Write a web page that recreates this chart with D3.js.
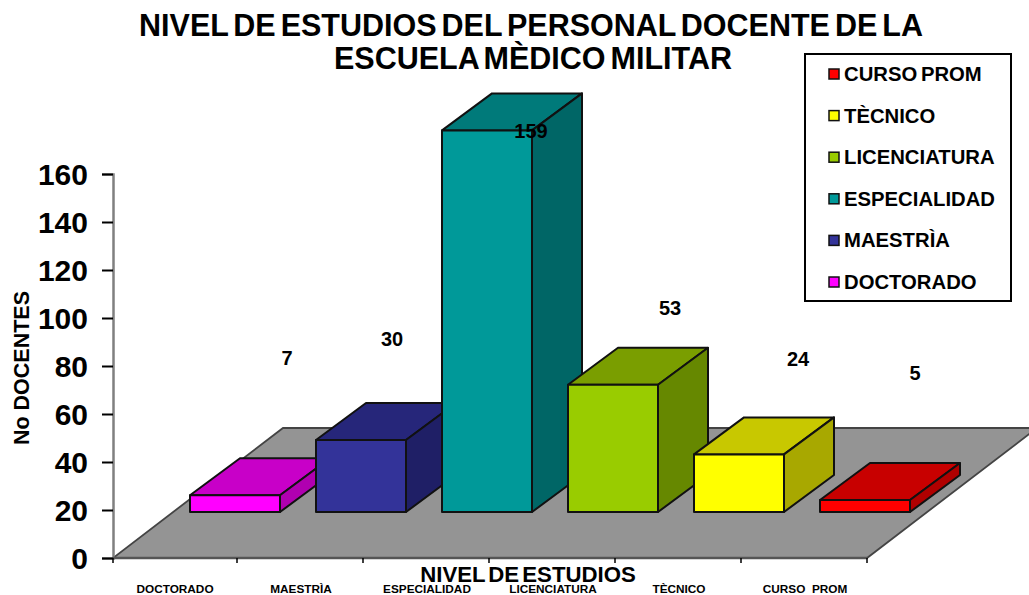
<!DOCTYPE html>
<html><head><meta charset="utf-8">
<script src="https://cdn.jsdelivr.net/npm/d3@7/dist/d3.min.js"></script>
<style>html,body{margin:0;padding:0;background:#fff}svg{display:block}text{font-family:"Liberation Sans",Arial,sans-serif;font-weight:bold;fill:#000;white-space:pre}</style>
</head><body><svg id="c" width="1029" height="595"></svg>
<script>
const categories = ["DOCTORADO","MAESTRÌA","ESPECIALIDAD","LICENCIATURA","TÈCNICO","CURSO  PROM"];
const legendLabels = ["CURSO PROM","TÈCNICO","LICENCIATURA","ESPECIALIDAD","MAESTRÌA","DOCTORADO"];
const values = [7,30,159,53,24,5];
const yTicks = [0,20,40,60,80,100,120,140,160];
const titleLines = ["NIVEL DE ESTUDIOS DEL PERSONAL DOCENTE DE LA","ESCUELA MÈDICO MILITAR"];
const frontColors = ["#ff00ff","#333399","#009999","#99cc00","#ffff00","#ff0000"];
const topColors   = ["#c800c8","#26267a","#007a7a","#7a9e00","#c8c800","#c80000"];
const sideColors  = ["#b000b0","#1f1f66","#006666","#668800","#a8a800","#b00000"];
// hand-placed value label positions, as in the source picture
const labelX = [287,392,531,670,798,915];
const labelY = [358,339,131,308,359,373];

const svg = d3.select("#c");
const y = d3.scaleLinear().domain([0,160]).range([558,174]);
const x = d3.scaleBand().domain(categories).range([111,867]).paddingInner(36/126).paddingOuter(18/126);
const floorDx=170, floorDy=-130, inDx=61, inDy=-46, barDx=50, barDy=-37;
const base=y(0);

svg.append("polygon")
  .attr("points",[[113,base],[867,base],[867+floorDx,base+floorDy],[113+floorDx,base+floorDy]].join(" "))
  .attr("fill","#949494").attr("stroke","#444").attr("stroke-width",1.8);

const g=svg.selectAll("g.bar").data(categories).join("g").attr("class","bar");
const st=s=>s.attr("stroke","#111").attr("stroke-width",2).attr("stroke-linejoin","round");
g.each(function(c,i){
  const s=d3.select(this), x0=x(c)+inDx, x1=x0+x.bandwidth(), b=base+inDy, t=y(values[i])+inDy;
  st(s.append("polygon").attr("points",[[x0,t],[x1,t],[x1+barDx,t+barDy],[x0+barDx,t+barDy]].join(" ")).attr("fill",topColors[i]));
  st(s.append("polygon").attr("points",[[x1,t],[x1+barDx,t+barDy],[x1+barDx,b+barDy],[x1,b]].join(" ")).attr("fill",sideColors[i]));
  st(s.append("rect").attr("x",x0).attr("y",t).attr("width",x.bandwidth()).attr("height",b-t).attr("fill",frontColors[i]));
});

const ax=svg.append("g").attr("transform","translate(113,0)")
  .call(d3.axisLeft(y).tickValues(yTicks).tickSize(11).tickPadding(14));
ax.select(".domain").attr("stroke","#808080").attr("stroke-width",2.5);
ax.selectAll(".tick line").attr("stroke","#000").attr("stroke-width",2);
ax.selectAll(".tick text").attr("font-size",30).attr("dy","0.36em");

const xTickVals=d3.range(7).map(i=>111+x.step()*i);
svg.append("line").attr("x1",113).attr("x2",867).attr("y1",base).attr("y2",base).attr("stroke","#555").attr("stroke-width",2.5);
svg.selectAll("line.xt").data(xTickVals).join("line").attr("class","xt")
  .attr("x1",d=>d>112?d:113).attr("x2",d=>d>112?d:113).attr("y1",base).attr("y2",base+5).attr("stroke","#000").attr("stroke-width",1.5);

svg.selectAll("text.cat").data(categories).join("text").attr("class","cat")
  .attr("x",d=>x(d)+x.bandwidth()/2+1).attr("y",593).attr("text-anchor","middle").attr("font-size",11.8).text(d=>d);

svg.selectAll("text.val").data(values).join("text").attr("class","val")
  .attr("x",(d,i)=>labelX[i]).attr("y",(d,i)=>labelY[i]+7).attr("text-anchor","middle").attr("font-size",20).text(d=>d);

svg.selectAll("text.title").data(titleLines).join("text").attr("class","title")
  .attr("x",(d,i)=>i?533:531).attr("y",(d,i)=>i?69:36).attr("text-anchor","middle").attr("font-size",30.5).attr("word-spacing",-3.5).text(d=>d);

svg.append("text").attr("x",528).attr("y",582).attr("text-anchor","middle").attr("font-size",22.2).attr("word-spacing",-3).text("NIVEL DE ESTUDIOS");
svg.append("text").attr("transform","translate(29,368) rotate(-90)").attr("text-anchor","middle").attr("font-size",21.5).text("No DOCENTES");

svg.append("rect").attr("x",805).attr("y",54).attr("width",206).attr("height",247).attr("fill","#fff").attr("stroke","#000").attr("stroke-width",2);
const rowY=d3.scalePoint().domain(legendLabels).range([74,282]);
const colorOf=d=>frontColors[legendLabels.length-1-legendLabels.indexOf(d)];
const lg=svg.selectAll("g.lg").data(legendLabels).join("g").attr("class","lg");
lg.append("rect").attr("x",829).attr("y",d=>rowY(d)-5).attr("width",10).attr("height",10).attr("fill",colorOf).attr("stroke","#111").attr("stroke-width",1.5);
lg.append("text").attr("x",844).attr("y",d=>rowY(d)+7).attr("font-size",20.3).attr("word-spacing",-2).text(d=>d);
</script></body></html>
